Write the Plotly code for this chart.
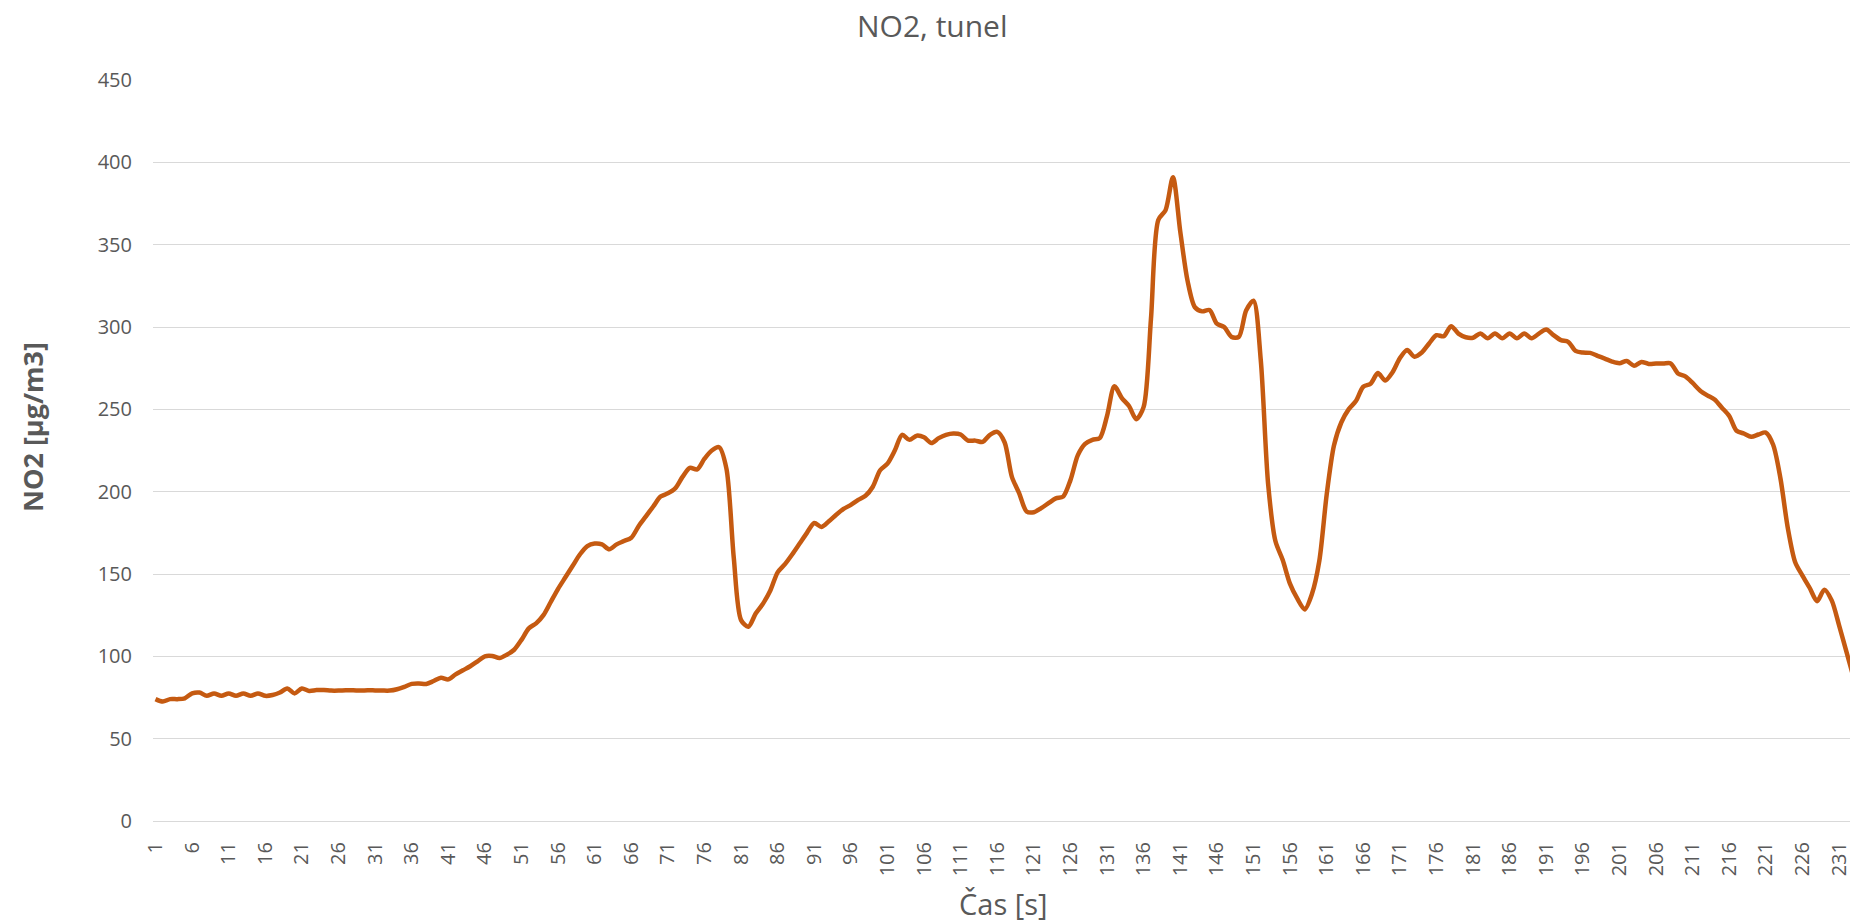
import plotly.graph_objects as go

# time in seconds (category index)
seconds = list(range(1, 234))

no2 = [
    74, 72.5, 74, 74, 74.5, 77.5, 78, 76, 77.5, 76,
    77.5, 76, 77.5, 76, 77.5, 76, 76.5, 78, 80.5, 77.5,
    80.5, 79, 79.5, 79.5, 79.2, 79.2, 79.4, 79.4, 79.2, 79.4,
    79.3, 79.2, 79.2, 80, 81.5, 83.3, 83.5, 83.2, 85, 87,
    86, 89, 91.5, 94, 97, 100, 100.2, 99, 101, 104,
    110, 117, 120, 125, 133, 141, 148, 155, 162, 167,
    168.5, 168, 165, 168, 170, 172, 179, 185, 191, 197,
    199, 202, 209, 214.5, 213.5, 220, 225, 227, 214, 160,
    122, 118, 126, 132, 140, 151, 156, 162, 168.5, 175,
    181, 178.6, 182, 186, 189.5, 192, 195, 197.5, 203, 213,
    217, 225, 234.5, 231.5, 234, 233, 229.5, 232.5, 234.5, 235.3,
    234.7, 231, 231, 230.2, 234.5, 236.3, 230, 209, 199, 188,
    187.5, 190, 193, 195.9, 197, 207, 222, 229, 231.5, 232.5,
    246, 264, 257, 252, 244, 251.5, 305, 365, 371, 391,
    358, 328, 312, 309.5, 310.3, 302, 300, 294, 294, 310,
    316, 280, 205, 170, 158.5, 144, 135, 128.5, 138, 158,
    198, 228, 242, 250, 255, 263.7, 265.5, 272, 267.5, 272.5,
    281, 286, 282, 284.5, 290, 295, 294.4, 300.5, 296, 293.8,
    293.5, 296.1, 293.1, 296.1, 293.1, 296.1, 293.1, 296.1, 293.1, 296,
    298.5, 295.1, 292, 291, 285.5, 284.5, 284.3, 282.5, 280.8, 279,
    278, 279.3, 276.5, 278.8, 277.6, 277.8, 277.8, 277.9, 271.8, 270,
    266, 261.5, 258.5, 256, 251, 246, 237, 235.3, 233.3, 234.7,
    235.9, 228.5, 208, 178, 157.3, 149, 141.5, 133.5, 140.5, 134,
    119, 103, 87,
]

tick_vals = list(range(1, 232, 5))
tick_text = [str(v) for v in tick_vals]
y_ticks = list(range(0, 451, 50))

chart_title = "NO2, tunel"
x_title = "Čas [s]"
y_title = "NO2 [µg/m3]"

GREY = "#595959"
GRID = "#D9D9D9"
FONT = "Open Sans"

fig = go.Figure()
fig.add_trace(go.Scatter(
    x=seconds, y=no2, mode="lines",
    line=dict(color="#C55A11", width=4.5, shape="spline", smoothing=0.8),
    cliponaxis=True, showlegend=False,
))

W, H = 1850, 923
L, T, B = 153, 80, 102
pw = W - L
ph = H - T - B


def px(xp):
    return (xp - L) / pw


def py(yp):
    return (H - B - yp) / ph


fig.update_layout(
    width=W, height=H,
    margin=dict(l=L, r=0, t=T, b=B, pad=0, autoexpand=False),
    paper_bgcolor="white", plot_bgcolor="white",
    font=dict(family=FONT, color=GREY, size=20),
    annotations=[
        dict(text=chart_title, xref="paper", yref="paper", x=px(932), y=py(26),
             xanchor="center", yanchor="middle", showarrow=False,
             font=dict(family=FONT, size=30, color=GREY)),
        dict(text=x_title, xref="paper", yref="paper", x=px(1004), y=py(903),
             xanchor="center", yanchor="middle", showarrow=False,
             font=dict(family=FONT, size=29, color=GREY)),
        dict(text="<b>" + y_title + "</b>", xref="paper", yref="paper", x=px(32), y=py(427),
             xanchor="center", yanchor="middle", showarrow=False, textangle=-90,
             font=dict(family=FONT, size=27, color=GREY)),
    ],
)

fig.update_xaxes(
    type="linear", range=[0.66, 232.5], automargin=False,
    tickmode="array", tickvals=tick_vals, ticktext=tick_text,
    tickangle=-90, tickfont=dict(family=FONT, size=20, color=GREY),
    showgrid=False, zeroline=False, showline=False, ticks="",
    ticklabelstandoff=16, ticklabeloverflow="allow",
)
fig.update_yaxes(
    range=[0, 450], tickmode="array", tickvals=y_ticks, automargin=False,
    tickfont=dict(family=FONT, size=20, color=GREY),
    showgrid=True, gridcolor=GRID, gridwidth=1.3,
    zeroline=True, zerolinecolor=GRID, zerolinewidth=1.3,
    showline=False, ticks="", ticklabelstandoff=20,
)

fig.write_html(
    "out.html",
    config={"displayModeBar": False},
    post_script="document.body.style.margin='0';document.body.style.overflow='hidden';",
)
